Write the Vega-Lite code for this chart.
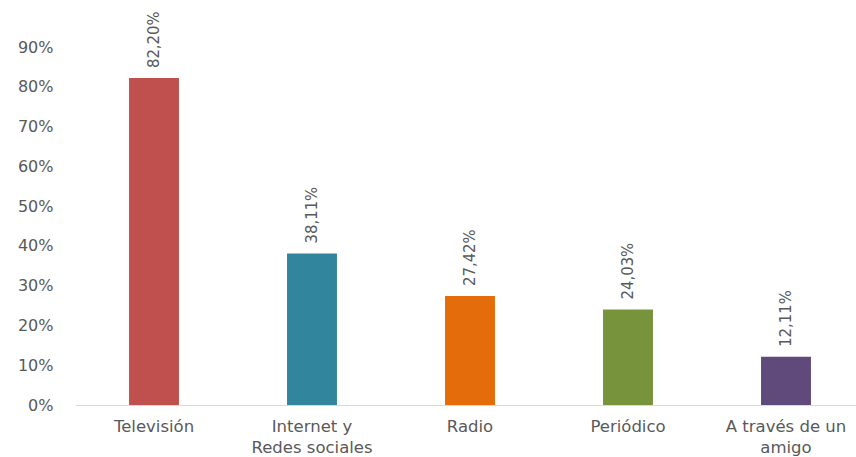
{
  "$schema": "https://vega.github.io/schema/vega-lite/v6.json",
  "width": 781,
  "height": 358,
  "autosize": "none",
  "padding": {"left": 75, "top": 47, "right": 0, "bottom": 52},
  "background": "white",
  "config": {
    "view": {"stroke": null},
    "locale": {"number": {"decimal": ",", "thousands": ".", "grouping": [3], "currency": ["", " €"]}}
  },
  "data": {
    "values": [
      {"medio": "Televisión", "valor": 0.822, "color": "#C0504D"},
      {"medio": "Internet y|Redes sociales", "valor": 0.3811, "color": "#31859C"},
      {"medio": "Radio", "valor": 0.2742, "color": "#E46C0A"},
      {"medio": "Periódico", "valor": 0.2403, "color": "#77933C"},
      {"medio": "A través de un|amigo", "valor": 0.1211, "color": "#604A7B"}
    ]
  },
  "encoding": {
    "x": {
      "field": "medio",
      "type": "nominal",
      "sort": null,
      "scale": {"range": [0, 790], "paddingInner": 0.684, "paddingOuter": 0.342},
      "axis": {
        "title": null,
        "labelAngle": 0,
        "labelExpr": "split(datum.label, '|')",
        "labelFont": "DejaVu Sans",
        "labelFontSize": 16.5,
        "labelColor": "#595959",
        "labelLineHeight": 21,
        "labelPadding": 13,
        "labelBaseline": "top",
        "ticks": false,
        "domainColor": "#D9D9D9",
        "domainWidth": 1,
        "grid": false,
        "labelOverlap": false,
        "labelBound": false
      }
    },
    "y": {
      "field": "valor",
      "type": "quantitative",
      "scale": {"domain": [0, 0.9], "nice": false},
      "axis": {
        "title": null,
        "format": ".0%",
        "values": [0, 0.1, 0.2, 0.3, 0.4, 0.5, 0.6, 0.7, 0.8, 0.9],
        "labelFont": "DejaVu Sans",
        "labelFontSize": 16,
        "labelColor": "#595959",
        "labelPadding": 22,
        "ticks": false,
        "domain": false,
        "grid": false
      }
    }
  },
  "layer": [
    {
      "mark": {"type": "bar"},
      "encoding": {
        "color": {"field": "color", "type": "nominal", "scale": null}
      }
    },
    {
      "mark": {
        "type": "text",
        "angle": 270,
        "align": "left",
        "baseline": "middle",
        "dx": 10,
        "font": "DejaVu Sans Condensed",
        "fontSize": 16.5,
        "color": "#595959"
      },
      "encoding": {
        "text": {"field": "valor", "type": "quantitative", "format": ".2%"}
      }
    }
  ]
}
